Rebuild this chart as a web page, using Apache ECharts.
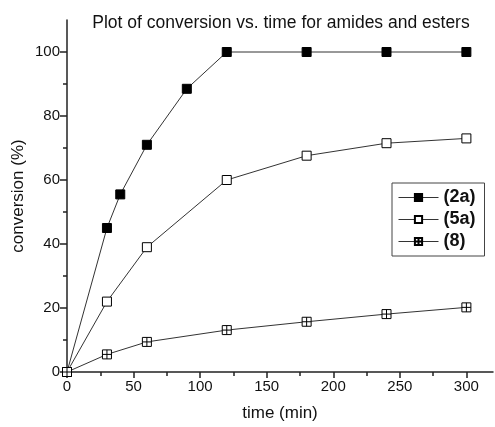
<!DOCTYPE html>
<html>
<head>
<meta charset="utf-8">
<script src="https://cdn.jsdelivr.net/npm/echarts@6/dist/echarts.min.js"></script>
<style>html,body{margin:0;padding:0;background:#fff}#c{width:495px;height:427px}</style>
</head>
<body>
<div id="c"></div>
<script>
const titleText = 'Plot of conversion vs. time for amides and esters';
const xName = 'time (min)';
const yName = 'conversion (%)';
const xMajorTicks = [0, 50, 100, 150, 200, 250, 300];
const xMinorTicks = [25, 75, 125, 175, 225, 275];
const yMajorTicks = [0, 20, 40, 60, 80, 100];
const yMinorTicks = [10, 30, 50, 70, 90];
const seriesNames = ['2a', '5a', '8'];
const time2a = [0, 30, 40, 60, 90, 120, 180, 240, 300];
const conv2a = [0, 45, 55.5, 71, 88.5, 100, 100, 100, 100];
const time5a = [0, 30, 60, 120, 180, 240, 300];
const conv5a = [0, 22, 39, 60, 67.6, 71.5, 73];
const time8 = [0, 30, 60, 120, 180, 240, 300];
const conv8 = [0, 5.5, 9.4, 13.1, 15.7, 18.1, 20.2];

const pair = (xs, ys) => xs.map((x, i) => [x, ys[i]]);
const plusSquare = 'path://M0,0H10V10H0Z M5,0V10 M0,5H10';
const lineStyle = { color: '#333', width: 1 };
const font = 'Liberation Sans, Arial, sans-serif';

const chart = echarts.init(document.getElementById('c'));
chart.setOption({
  animation: false,
  title: {
    text: titleText, left: 276, top: 9, textAlign: 'center',
    textStyle: { fontSize: 17.5, fontWeight: 'normal', color: '#111', fontFamily: font }
  },
  grid: { left: 67, right: 2, top: 20, bottom: 54 },
  legend: {
    orient: 'vertical', left: 392, top: 183, width: 95,
    padding: [5, 9, 5, 6], itemGap: 3,
    borderColor: '#444', borderWidth: 1,
    itemWidth: 40, itemHeight: 9,
    data: seriesNames,
    lineStyle: { width: 1, color: '#333' },
    formatter: n => '(' + n + ')',
    textStyle: { fontFamily: font, color: '#111', fontSize: 18, fontWeight: 'bold', lineHeight: 19 }
  },
  xAxis: [{
    type: 'value', min: 0, max: 320, position: 'bottom',
    name: xName, nameLocation: 'middle', nameGap: 33,
    nameTextStyle: { fontSize: 17, color: '#111', fontFamily: font },
    axisLine: { show: true, lineStyle: { color: '#222', width: 1.5 } },
    axisTick: { show: true, customValues: xMinorTicks, length: 4, lineStyle: { color: '#222', width: 1.5 } },
    axisLabel: { show: false },
    splitLine: { show: false }
  }, {
    type: 'value', min: 0, max: 320, position: 'bottom',
    axisLine: { show: false },
    axisTick: { show: true, customValues: xMajorTicks, length: 6, lineStyle: { color: '#222', width: 1.5 } },
    axisLabel: { customValues: xMajorTicks, fontSize: 15, color: '#111', fontFamily: font, margin: 7 },
    splitLine: { show: false }
  }],
  yAxis: [{
    type: 'value', min: 0, max: 110, position: 'left',
    name: yName, nameLocation: 'middle', nameGap: 40, nameRotate: 90,
    nameTextStyle: { fontSize: 17, color: '#111', fontFamily: font },
    axisLine: { show: true, lineStyle: { color: '#222', width: 1.5 } },
    axisTick: { show: true, customValues: yMinorTicks, length: 4, lineStyle: { color: '#222', width: 1.5 } },
    axisLabel: { show: false },
    splitLine: { show: false }
  }, {
    type: 'value', min: 0, max: 110, position: 'left',
    axisLine: { show: false },
    axisTick: { show: true, customValues: yMajorTicks, length: 7, lineStyle: { color: '#222', width: 1.5 } },
    axisLabel: { customValues: yMajorTicks, fontSize: 15, color: '#111', fontFamily: font, margin: 7 },
    splitLine: { show: false }
  }],
  series: [{
    name: seriesNames[0], type: 'line', data: pair(time2a, conv2a),
    symbol: 'rect', symbolSize: 9, showAllSymbol: true,
    itemStyle: { color: '#000', borderColor: '#000', borderWidth: 1 },
    lineStyle: lineStyle, z: 3
  }, {
    name: seriesNames[1], type: 'line', data: pair(time5a, conv5a),
    symbol: 'rect', symbolSize: 9, showAllSymbol: true,
    itemStyle: { color: '#fff', borderColor: '#000', borderWidth: 1 },
    lineStyle: lineStyle, z: 4
  }, {
    name: seriesNames[2], type: 'line', data: pair(time8, conv8),
    symbol: plusSquare, symbolSize: 9, showAllSymbol: true,
    itemStyle: { color: '#fff', borderColor: '#000', borderWidth: 1 },
    lineStyle: lineStyle, z: 5
  }]
});
</script>
</body>
</html>
